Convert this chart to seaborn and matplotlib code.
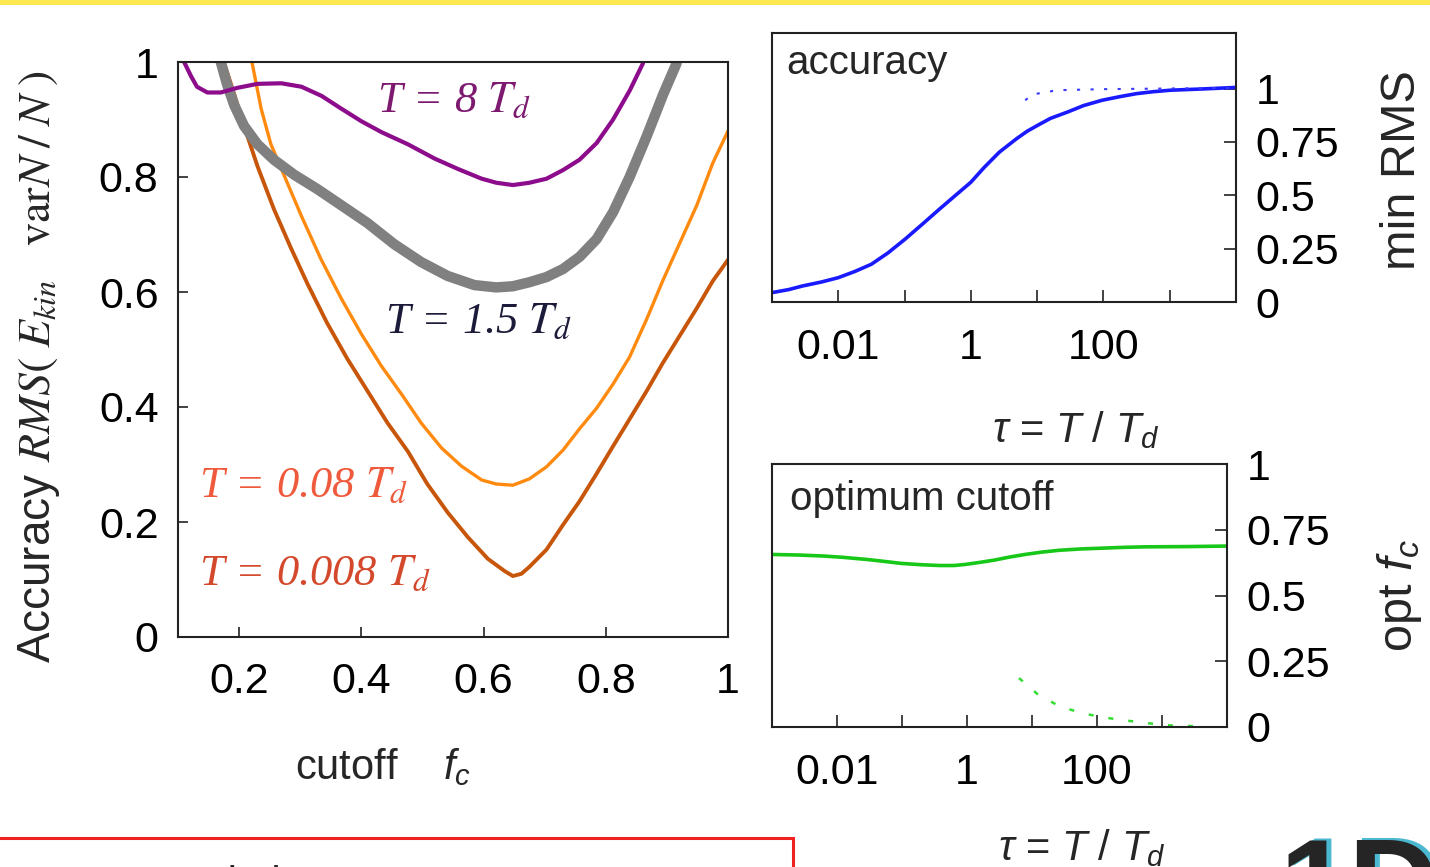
import numpy as np
import pandas as pd
import seaborn as sns
import matplotlib.pyplot as plt
from matplotlib.patches import Rectangle

# ---- data ----
# main panel: RMS accuracy vs cutoff f_c for four sampling times
fc_8 = [0.11, 0.121, 0.131, 0.148, 0.17, 0.197, 0.23, 0.269, 0.302, 0.335, 0.367, 0.4, 0.433,
        0.476, 0.52, 0.558, 0.597, 0.621, 0.648, 0.675, 0.703, 0.73, 0.757, 0.785, 0.812, 0.839, 0.861]
rms_8 = [1.0, 0.976, 0.957, 0.947, 0.947, 0.955, 0.962, 0.963, 0.957, 0.941, 0.919, 0.897, 0.878,
         0.857, 0.832, 0.814, 0.797, 0.79, 0.786, 0.79, 0.797, 0.812, 0.83, 0.859, 0.9, 0.95, 0.998]

fc_15 = [0.17, 0.18, 0.192, 0.208, 0.23, 0.257, 0.29, 0.328, 0.367, 0.41, 0.454, 0.498, 0.541,
         0.585, 0.621, 0.648, 0.675, 0.703, 0.73, 0.757, 0.785, 0.812, 0.839, 0.867, 0.894, 0.916]
rms_15 = [1.0, 0.962, 0.925, 0.889, 0.857, 0.83, 0.804, 0.779, 0.751, 0.72, 0.683, 0.652, 0.628,
          0.612, 0.608, 0.61, 0.617, 0.626, 0.64, 0.661, 0.692, 0.739, 0.8, 0.871, 0.944, 0.998]

fc_008 = [0.221, 0.236, 0.252, 0.274, 0.302, 0.334, 0.367, 0.4, 0.433, 0.466, 0.498, 0.531, 0.564,
          0.597, 0.621, 0.648, 0.675, 0.703, 0.73, 0.757, 0.785, 0.812, 0.839, 0.867, 0.893, 0.921,
          0.949, 0.975, 1.0]
rms_008 = [1.0, 0.919, 0.857, 0.802, 0.732, 0.657, 0.589, 0.527, 0.471, 0.422, 0.372, 0.329, 0.297,
           0.273, 0.266, 0.264, 0.275, 0.296, 0.325, 0.362, 0.398, 0.44, 0.487, 0.553, 0.619, 0.685,
           0.751, 0.824, 0.88]

fc_0008 = [0.175, 0.192, 0.208, 0.23, 0.257, 0.285, 0.312, 0.344, 0.377, 0.41, 0.443, 0.476, 0.508,
           0.541, 0.574, 0.607, 0.634, 0.648, 0.662, 0.675, 0.703, 0.73, 0.757, 0.785, 0.812, 0.839,
           0.867, 0.893, 0.921, 0.949, 0.975, 1.0]
rms_0008 = [1.0, 0.944, 0.889, 0.819, 0.744, 0.676, 0.614, 0.546, 0.484, 0.428, 0.372, 0.323, 0.266,
            0.217, 0.174, 0.136, 0.115, 0.106, 0.11, 0.122, 0.152, 0.195, 0.236, 0.284, 0.332, 0.379,
            0.428, 0.476, 0.524, 0.572, 0.619, 0.656]

# top right: minimum RMS vs tau (log10 tau)
logtau_acc = [-3, -2.75, -2.54, -2.25, -2, -1.75, -1.5, -1.25, -0.99, -0.73, -0.47, -0.23, 0, 0.2,
              0.43, 0.69, 0.85, 1.01, 1.2, 1.46, 1.7, 1.98, 2.25, 2.5, 2.75, 3.01, 3.5, 4]
min_rms = [0.044, 0.058, 0.075, 0.094, 0.114, 0.143, 0.177, 0.23, 0.295, 0.365, 0.436, 0.5, 0.561,
           0.63, 0.702, 0.765, 0.8, 0.828, 0.86, 0.89, 0.92, 0.945, 0.962, 0.976, 0.985, 0.992,
           0.998, 1.005]
logtau_acc_dot = [0.82, 0.93, 1.3, 2.0, 3.0, 4.0]
min_rms_dot = [0.945, 0.972, 0.992, 0.997, 1.0, 1.003]

# bottom right: optimum cutoff vs tau (log10 tau)
logtau_opt = [-3, -2.6, -2.2, -1.9, -1.54, -1.25, -1.01, -0.7, -0.42, -0.2, -0.03, 0.2, 0.43,
              0.65, 0.89, 1.15, 1.42, 1.75, 2.08, 2.4, 2.73, 3.39, 4]
opt_fc = [0.656, 0.654, 0.65, 0.645, 0.637, 0.629, 0.622, 0.617, 0.614, 0.614, 0.618, 0.626, 0.635,
          0.646, 0.656, 0.665, 0.672, 0.677, 0.68, 0.683, 0.685, 0.686, 0.688]
logtau_opt_dot = [0.8, 1.09, 1.42, 1.75, 2.08, 2.47, 2.8, 3.13, 3.53]
opt_fc_dot = [0.186, 0.124, 0.079, 0.054, 0.037, 0.024, 0.014, 0.006, 0.003]

curves = [
    (fc_0008, rms_0008, "#c8560a", 2.8),
    (fc_008, rms_008, "#ff8a10", 2.4),
    (fc_15, rms_15, "#808080", 7.5),
    (fc_8, rms_8, "#8c0c8c", 3.0),
]

sns.set_theme(style="white")
plt.rcParams["font.family"] = ["Liberation Sans", "DejaVu Sans"]
plt.rcParams["mathtext.fontset"] = "custom"
plt.rcParams["mathtext.it"] = "Liberation Sans:italic"
plt.rcParams["mathtext.rm"] = "Liberation Sans"
plt.rcParams["mathtext.bf"] = "Liberation Sans:bold"
plt.rcParams["axes.edgecolor"] = "#222222"
plt.rcParams["axes.linewidth"] = 1.5
plt.rcParams["lines.solid_joinstyle"] = "round"

W, H = 1430, 867
fig = plt.figure(figsize=(W / 100, H / 100), dpi=100)


def px_axes(left, top, right, bottom):
    return fig.add_axes([left / W, 1 - bottom / H, (right - left) / W, (bottom - top) / H])


TICK = 31

# ---------- main panel ----------
ax = px_axes(178, 62, 728, 637)
for xs, ys, col, lw in curves:
    sns.lineplot(x=xs, y=ys, ax=ax, color=col, linewidth=lw, sort=False, estimator=None)
ax.set_xlim(0.1, 1.0)
ax.set_ylim(0, 1)
ax.set_xticks([0.2, 0.4, 0.6, 0.8, 1.0])
ax.set_xticklabels(["0.2", "0.4", "0.6", "0.8", "1"])
ax.set_yticks([0, 0.2, 0.4, 0.6, 0.8, 1.0])
ax.set_yticklabels(["0", "0.2", "0.4", "0.6", "0.8", "1"])
ax.tick_params(axis="both", direction="in", length=7, width=1.2, labelsize=TICK,
               left=True, bottom=True, colors="#222222", labelcolor="black")
ax.tick_params(axis="x", pad=18)
ax.tick_params(axis="y", pad=14)
ax.set_xlabel(r"cutoff    $f_c$", fontsize=30)
ax.xaxis.set_label_coords(0.373, -0.19)
ax.set_ylabel(r"Accuracy $RMS(\;E_{kin}\quad \mathrm{var}N\;/\;N\;)$", fontsize=33,
              math_fontfamily="stix")
ax.yaxis.set_label_coords(-0.21, 0.47)

ann = dict(fontsize=32, family="Liberation Serif", style="italic", math_fontfamily="stix",
           va="baseline", ha="left")
ax.text(0.426, 0.913, r"T = 8 $T_d$", color="#7d1a70", **ann)
ax.text(0.438, 0.529, r"T = 1.5 $T_d$", color="#1c1c3a", **ann)
ax.text(0.134, 0.243, r"T = 0.08 $T_d$", color="#f05a3c", **ann)
ax.text(0.134, 0.09, r"T = 0.008 $T_d$", color="#d4482c", **ann)


def log_panel(axp, ylim, ylabel, lab_xy):
    axp.set_xscale("log")
    axp.set_xlim(1e-3, 1e4)
    axp.set_ylim(*ylim)
    axp.set_xticks([1e-2, 1e-1, 1, 10, 100, 1000])
    axp.set_xticklabels(["0.01", "", "1", "", "100", ""])
    axp.xaxis.set_minor_locator(plt.NullLocator())
    axp.set_yticks([0, 0.25, 0.5, 0.75, 1.0])
    axp.set_yticklabels(["0", "0.25", "0.5", "0.75", "1"])
    axp.yaxis.tick_right()
    axp.yaxis.set_label_position("right")
    axp.tick_params(axis="both", direction="in", length=9, width=1.2, labelsize=TICK,
                    colors="#222222", labelcolor="black")
    axp.tick_params(axis="x", pad=19, bottom=True, top=False)
    axp.tick_params(axis="y", pad=14, right=True, left=False)
    axp.set_ylabel(ylabel, fontsize=35)
    axp.yaxis.set_label_coords(*lab_xy)


# ---------- top right: accuracy ----------
ax1 = px_axes(772, 33, 1236, 302)
sns.lineplot(x=10.0 ** np.array(logtau_acc), y=min_rms, ax=ax1, color="#1a1aff", linewidth=2.6,
             estimator=None)
sns.lineplot(x=10.0 ** np.array(logtau_acc_dot), y=min_rms_dot, ax=ax1, color="#3a3aff",
             linewidth=1.5, linestyle=(0, (1.5, 5)), estimator=None)
log_panel(ax1, (0, 1.26), "min RMS", (1.31, 0.49))
ax1.text(0.03, 0.96, "accuracy", transform=ax1.transAxes, fontsize=29, va="top", ha="left")
ax1.set_xlabel(r"$\tau$ = $T$ / $T_d$", fontsize=30)
ax1.xaxis.set_label_coords(0.655, -0.40)

# ---------- bottom right: optimum cutoff ----------
ax2 = px_axes(772, 464, 1227, 727)
sns.lineplot(x=10.0 ** np.array(logtau_opt), y=opt_fc, ax=ax2, color="#18c818", linewidth=2.6,
             estimator=None)
sns.lineplot(x=10.0 ** np.array(logtau_opt_dot), y=opt_fc_dot, ax=ax2, color="#33dd33",
             linewidth=1.8, linestyle=(0, (2, 6)), estimator=None)
log_panel(ax2, (0, 1.0), r"opt $f_c$", (1.325, 0.5))
ax2.text(0.04, 0.94, "optimum cutoff", transform=ax2.transAxes, fontsize=29, va="top", ha="left")
ax2.set_xlabel(r"$\tau$ = $T$ / $T_d$", fontsize=30)
ax2.xaxis.set_label_coords(0.68, -0.38)

# ---------- slide decorations ----------
fig.patches.append(Rectangle((0, 1 - 5 / H), 1, 5 / H, transform=fig.transFigure,
                             facecolor="#ffe850", edgecolor="none"))
fig.patches.append(Rectangle((-5 / W, -0.05), (793 + 5) / W, 0.05 + (H - 838) / H,
                             transform=fig.transFigure, fill=False, edgecolor="#ee2020",
                             linewidth=2.2))
fig.text(2 / W, (H - 865) / H, "Recommendation", fontsize=30, va="top", ha="left")
fig.text(1284 / W, (H - 834) / H, "1D", fontsize=90, fontweight="bold", va="top",
         ha="left", color="#4ab8d0")
fig.text(1279 / W, (H - 836) / H, "1D", fontsize=90, fontweight="bold", va="top",
         ha="left", color="#252525")

fig.savefig("out.png", dpi=100)
